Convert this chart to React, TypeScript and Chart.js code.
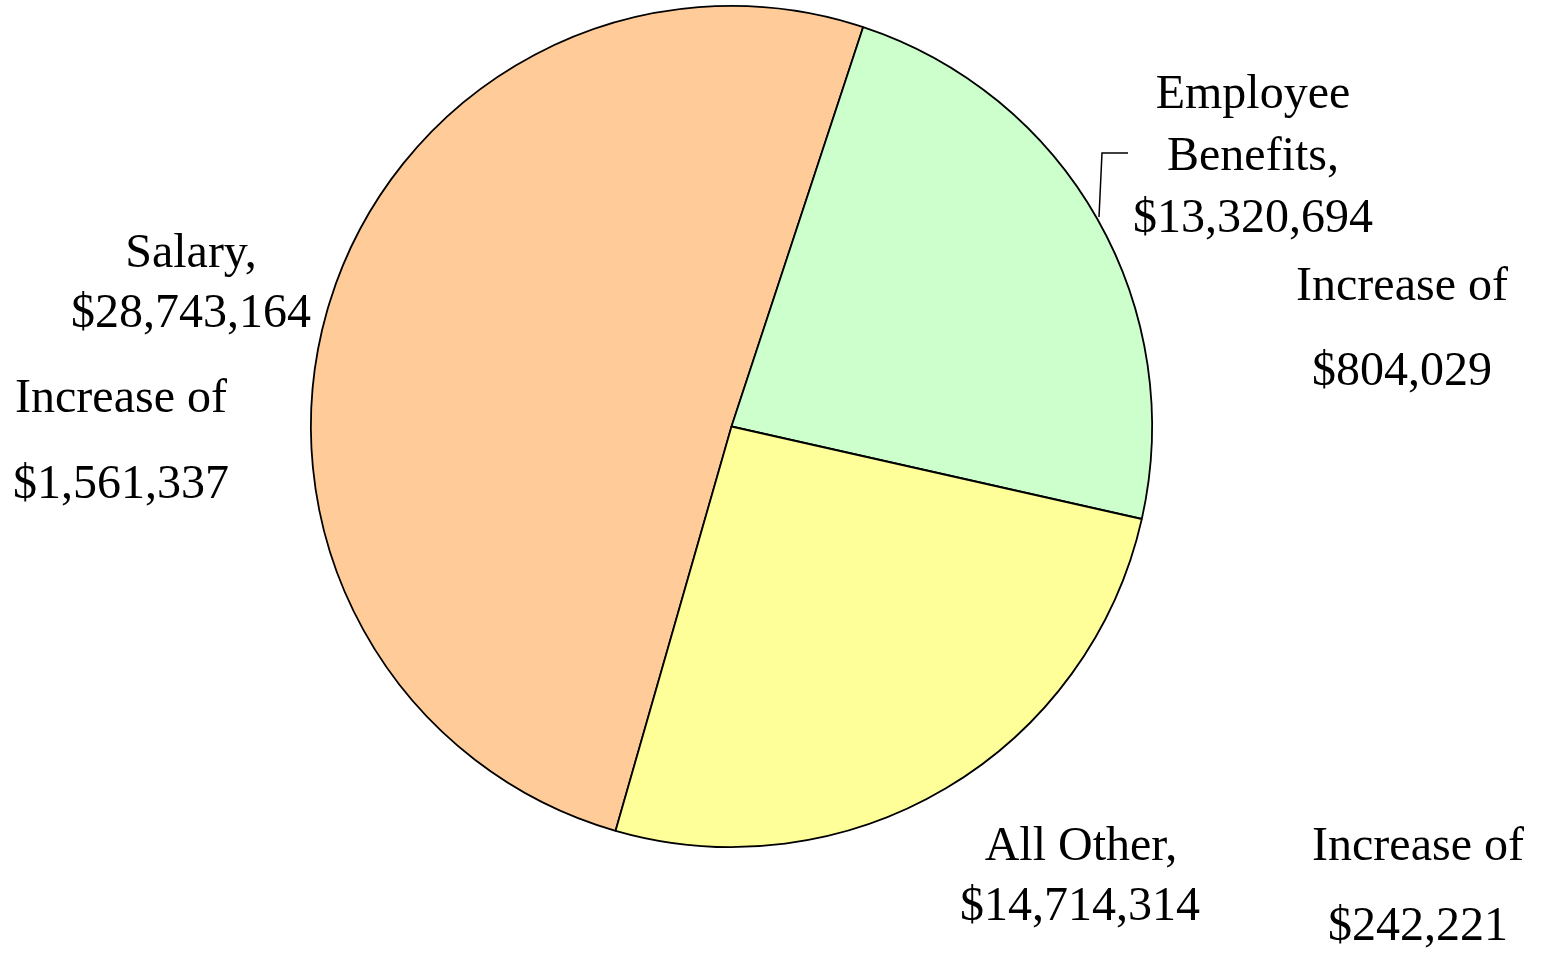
import React, { useEffect, useRef } from "react";
import { Chart, registerables } from "chart.js";

Chart.register(...registerables);

const categories = ["Salary", "Employee Benefits", "All Other"];
const amounts = [28743164, 13320694, 14714314];
const increases = [1561337, 804029, 242221];
const sliceColors = ["#FFCC99", "#CCFFCC", "#FFFF99"];

const money = (v: number) => "$" + v.toLocaleString("en-US");

const FONT = '48px "Liberation Serif", "Times New Roman", serif';

const labelPlugin = {
  id: "pieLabels",
  afterDraw(chart: any) {
    const ctx = chart.ctx as CanvasRenderingContext2D;
    ctx.save();
    ctx.font = FONT;
    ctx.fillStyle = "#000";
    ctx.textAlign = "center";
    ctx.textBaseline = "alphabetic";

    // Salary
    ctx.fillText(categories[0] + ",", 191, 267);
    ctx.fillText(money(amounts[0]), 191, 327);
    ctx.fillText("Increase of", 121, 412);
    ctx.fillText(money(increases[0]), 121, 498);

    // Employee Benefits
    const ebWords = categories[1].split(" ");
    ctx.fillText(ebWords[0], 1253, 108);
    ctx.fillText(ebWords[1] + ",", 1253, 170);
    ctx.fillText(money(amounts[1]), 1253, 232);
    ctx.fillText("Increase of", 1402, 300);
    ctx.fillText(money(increases[1]), 1402, 385);

    // All Other
    ctx.fillText(categories[2] + ",", 1081, 860);
    ctx.fillText(money(amounts[2]), 1080, 920);
    ctx.fillText("Increase of", 1418, 860);
    ctx.fillText(money(increases[2]), 1418, 940);

    // leader line for Employee Benefits
    ctx.strokeStyle = "#000";
    ctx.lineWidth = 1.5;
    ctx.beginPath();
    ctx.moveTo(1099, 217);
    ctx.lineTo(1102, 153);
    ctx.lineTo(1128, 153);
    ctx.stroke();
    ctx.restore();
  },
};

export default function App() {
  const ref = useRef<HTMLCanvasElement | null>(null);
  useEffect(() => {
    if (!ref.current) return;
    const chart = new Chart(ref.current, {
      type: "pie",
      data: {
        labels: categories,
        datasets: [
          {
            data: amounts,
            backgroundColor: sliceColors,
            borderColor: "#000",
            borderWidth: 1.8,
          },
        ],
      },
      options: {
        animation: false,
        responsive: false,
        rotation: 196,
        layout: { padding: { left: 310, right: 388, top: 4, bottom: 106 } },
        plugins: {
          legend: { display: false },
          tooltip: { enabled: false },
        },
      },
      plugins: [labelPlugin],
    });
    return () => chart.destroy();
  }, []);
  return (
    <div style={{ position: "fixed", left: 0, top: 0, width: 1541, height: 955, background: "#fff" }}>
      <canvas ref={ref} width={1541} height={955} style={{ display: "block" }} />
    </div>
  );
}
